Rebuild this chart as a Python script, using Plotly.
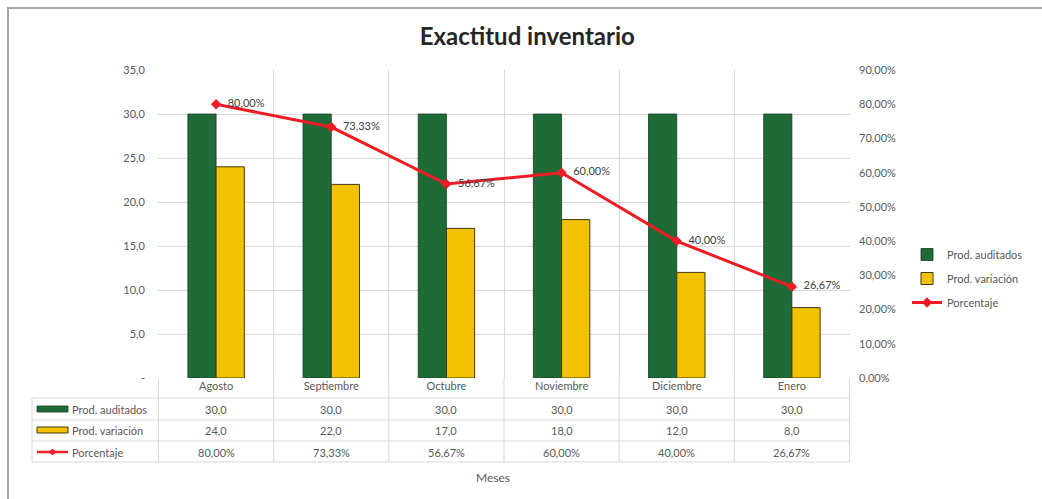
import plotly.graph_objects as go

# Chart data
meses = ["Agosto", "Septiembre", "Octubre", "Noviembre", "Diciembre", "Enero"]
prod_auditados = [30.0, 30.0, 30.0, 30.0, 30.0, 30.0]
prod_variacion = [24.0, 22.0, 17.0, 18.0, 12.0, 8.0]
porcentaje = [0.80, 0.7333, 0.5667, 0.60, 0.40, 0.2667]

left_tickvals = [0, 5, 10, 15, 20, 25, 30, 35]
left_ticktext = ["-", "5,0", "10,0", "15,0", "20,0", "25,0", "30,0", "35,0"]
right_tickvals = [0, 0.1, 0.2, 0.3, 0.4, 0.5, 0.6, 0.7, 0.8, 0.9]

GREEN = "#1e6b37"
YELLOW = "#f2c200"
RED = "#ee1c25"
GRID = "#d9d9d9"
TXT = "#595959"
FONT = "Lato"

W, H = 1042, 499
L, R, T, B = 158, 192, 70, 121
PW, PH = W - L - R, H - T - B


def px_x(px):
    return (px - L) / PW


def px_y(py):
    return (H - B - py) / PH


fig = go.Figure()
fig.add_trace(go.Bar(
    x=meses, y=prod_auditados, name="Prod. auditados", legendgroup="a",
    marker=dict(color=GREEN, line=dict(color="#1a3d22", width=0.8)),
))
fig.add_trace(go.Bar(
    x=meses, y=prod_variacion, name="Prod. variación", legendgroup="b",
    marker=dict(color=YELLOW, line=dict(color="#3d3a10", width=1)),
))
fig.add_trace(go.Scatter(
    x=meses, y=porcentaje, name="Porcentaje", yaxis="y2", legendgroup="c",
    mode="lines+markers+text",
    line=dict(color=RED, width=3),
    marker=dict(symbol="diamond", size=8, color=RED),
    texttemplate="  %{y:.2%}", textposition="middle right",
    textfont=dict(family=FONT, size=11, color="#404040"),
))

shapes = []
annotations = []

# Outer chart frame
shapes.append(dict(type="rect", xref="paper", yref="paper",
                   x0=px_x(8), x1=px_x(1050), y0=px_y(510), y1=px_y(8),
                   line=dict(color="#a6a6a6", width=2), layer="below"))

# Data table under the axis
row_lines = [398, 420, 441, 462]
for py in row_lines:
    shapes.append(dict(type="line", xref="paper", yref="paper",
                       x0=px_x(32), x1=1.0, y0=px_y(py), y1=px_y(py),
                       line=dict(color=GRID, width=1)))
shapes.append(dict(type="line", xref="paper", yref="paper",
                   x0=px_x(32), x1=px_x(32), y0=px_y(398), y1=px_y(462),
                   line=dict(color=GRID, width=1)))
for i in range(len(meses) + 1):
    shapes.append(dict(type="line", xref="x", yref="paper",
                       x0=i - 0.5, x1=i - 0.5, y0=0, y1=px_y(462),
                       line=dict(color=GRID, width=1)))

row_y = [409, 430, 452]
row_names = ["Prod. auditados", "Prod. variación", "Porcentaje"]
row_values = [
    [f"{v:.1f}".replace(".", ",") for v in prod_auditados],
    [f"{v:.1f}".replace(".", ",") for v in prod_variacion],
    [f"{v * 100:.2f}%".replace(".", ",") for v in porcentaje],
]
for r, (py, name, vals) in enumerate(zip(row_y, row_names, row_values)):
    annotations.append(dict(xref="paper", yref="paper", x=px_x(70), y=px_y(py),
                            text=name, showarrow=False, xanchor="left", yanchor="middle",
                            font=dict(family=FONT, size=11, color=TXT)))
    for i, v in enumerate(vals):
        annotations.append(dict(xref="x", yref="paper", x=meses[i], y=px_y(py),
                                text=v, showarrow=False, xanchor="center", yanchor="middle",
                                font=dict(family=FONT, size=11, color=TXT)))

# Table row keys
shapes.append(dict(type="rect", xref="paper", yref="paper",
                   x0=px_x(37), x1=px_x(68), y0=px_y(412), y1=px_y(406),
                   fillcolor=GREEN, line=dict(color="#1a3d22", width=0.8)))
shapes.append(dict(type="rect", xref="paper", yref="paper",
                   x0=px_x(37), x1=px_x(68), y0=px_y(433), y1=px_y(427),
                   fillcolor=YELLOW, line=dict(color="#3d3a10", width=1)))
shapes.append(dict(type="line", xref="paper", yref="paper",
                   x0=px_x(37), x1=px_x(68), y0=px_y(452), y1=px_y(452),
                   line=dict(color=RED, width=2.5)))
shapes.append(dict(type="path", xref="paper", yref="paper",
                   path=f"M {px_x(52.5)},{px_y(449)} L {px_x(55.5)},{px_y(452)} "
                        f"L {px_x(52.5)},{px_y(455)} L {px_x(49.5)},{px_y(452)} Z",
                   fillcolor=RED, line=dict(color=RED, width=1)))

# Axis title
annotations.append(dict(xref="paper", yref="paper", x=px_x(493), y=px_y(477),
                        text="Meses", showarrow=False, xanchor="center", yanchor="middle",
                        font=dict(family=FONT, size=12, color=TXT)))

fig.update_layout(
    width=W, height=H,
    margin=dict(l=L, r=R, t=T, b=B, autoexpand=False),
    paper_bgcolor="white", plot_bgcolor="white",
    separators=",.",
    font=dict(family=FONT, size=11, color=TXT),
    title=dict(text="<b>Exactitud inventario</b>", x=0.506, xref="container",
               y=1 - 37 / H, yref="container", xanchor="center", yanchor="middle",
               font=dict(family=FONT, size=24, color="#262626")),
    barmode="group", bargap=0.51, bargroupgap=0,
    xaxis=dict(type="category", tickson="boundaries", showgrid=True, gridcolor=GRID,
               gridwidth=1, showline=False, ticks="", ticklen=0,
               tickfont=dict(family=FONT, size=11, color=TXT), zeroline=False),
    yaxis=dict(range=[0, 35], tickvals=left_tickvals, ticktext=left_ticktext,
               showgrid=True, gridcolor=GRID, gridwidth=1, zeroline=False,
               showline=False, ticks="", ticklabelstandoff=12,
               tickfont=dict(family=FONT, size=11, color=TXT)),
    yaxis2=dict(range=[0, 0.9], tickvals=right_tickvals, tickformat=".2%",
                overlaying="y", side="right", showgrid=False, zeroline=False,
                showline=False, ticks="", ticklabelstandoff=8,
                tickfont=dict(family=FONT, size=11, color=TXT)),
    legend=dict(x=px_x(907), y=px_y(240), xanchor="left", yanchor="top",
                font=dict(family=FONT, size=11, color=TXT), itemwidth=30,
                traceorder="grouped", tracegroupgap=5, bgcolor="rgba(0,0,0,0)"),
    shapes=shapes,
    annotations=annotations,
)

fig.write_html("out.html")
